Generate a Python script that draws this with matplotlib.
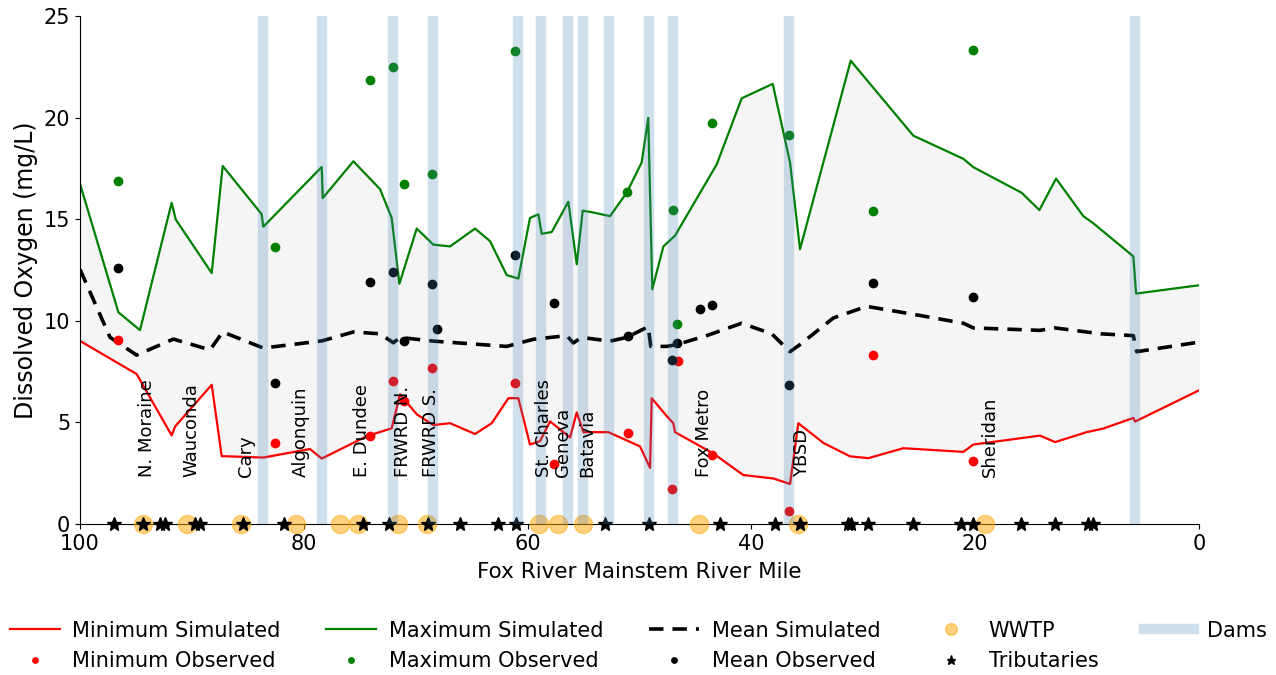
import matplotlib
matplotlib.use("Agg")
import matplotlib.pyplot as plt
import numpy as np

# simulated profiles (river mile, DO mg/L)
min_sim_mile = [100, 94.94, 91.81, 91.5, 88.23, 87.34, 83.62, 79.45, 78.40, 74.38, 72.15, 71.4,
                69.91, 68.43, 66.93, 64.70, 63.21, 61.72, 60.83, 59.79, 58.89, 58.0, 56.21, 55.61,
                55.02, 52.79, 49.96, 49.06, 48.91, 47.57, 46.98, 46.83, 43.41, 40.73, 38.04, 36.55,
                35.81, 33.57, 31.19, 29.55, 26.43, 21.06, 20.17, 14.21, 12.87, 10.04, 8.55, 5.87,
                5.72, 0.0]
min_sim_do = [9.01, 7.38, 4.36, 4.80, 6.85, 3.34, 3.27, 3.69, 3.22, 4.32, 4.71, 6.38,
              5.40, 4.87, 4.96, 4.43, 4.96, 6.19, 6.19, 3.91, 4.08, 5.05, 4.26, 5.49,
              4.52, 4.52, 3.82, 2.76, 6.19, 5.31, 4.96, 4.52, 3.47, 2.41, 2.24, 1.97,
              4.96, 3.99, 3.33, 3.24, 3.73, 3.55, 3.91, 4.35, 4.03, 4.52, 4.70, 5.22,
              5.04, 6.58]

max_sim_mile = [100, 96.57, 94.64, 91.81, 91.45, 88.23, 87.25, 83.77, 83.62, 78.40, 78.31, 75.57,
                73.19, 72.15, 71.46, 69.91, 68.43, 66.93, 64.70, 63.36, 61.87, 60.83, 59.79, 59.04,
                58.74, 57.85, 56.36, 55.61, 55.08, 54.13, 52.64, 51.15, 49.81, 49.22, 48.86, 47.87,
                46.83, 43.10, 40.87, 38.10, 36.55, 35.66, 31.13, 25.53, 21.06, 20.17, 15.85, 14.27,
                12.78, 10.34, 9.45, 5.87, 5.63, 0.0]
max_sim_do = [16.74, 10.42, 9.54, 15.81, 14.99, 12.35, 17.62, 15.25, 14.63, 17.57, 16.04, 17.85,
              16.48, 15.07, 11.82, 14.54, 13.75, 13.66, 14.54, 13.92, 12.25, 12.08, 15.06, 15.24,
              14.28, 14.37, 15.86, 12.78, 15.42, 15.33, 15.15, 16.30, 17.79, 19.99, 11.55, 13.66,
              14.19, 17.70, 20.95, 21.66, 17.79, 13.52, 22.80, 19.11, 17.97, 17.56, 16.30, 15.45,
              17.0, 15.15, 14.80, 13.17, 11.34, 11.75]

mean_sim_mile = [100, 97.32, 94.94, 91.66, 88.38, 87.25, 83.62, 78.40, 75.57, 73.19, 72.0, 71.4,
                 68.43, 61.87, 59.49, 56.5, 55.92, 55.17, 52.64, 51.15, 49.22, 49.0, 47.57, 46.68,
                 44.0, 40.87, 38.19, 36.55, 35.66, 32.68, 29.70, 25.53, 21.06, 20.17, 14.21, 12.87,
                 8.79, 5.87, 5.57, 0.0]
mean_sim_do = [12.53, 9.19, 8.31, 9.10, 8.57, 9.45, 8.66, 9.01, 9.45, 9.36, 8.92, 9.18,
               9.0, 8.74, 9.09, 9.27, 8.91, 9.18, 9.0, 9.18, 9.71, 8.74, 8.74, 8.83,
               9.27, 9.88, 9.36, 8.48, 8.83, 10.14, 10.71, 10.32, 9.88, 9.65, 9.53, 9.65,
               9.36, 9.27, 8.48, 8.95]

# observations
max_obs_mile = [96.57, 82.57, 74.08, 72.06, 71.05, 68.57, 61.13, 51.15, 47.04, 46.68, 43.55, 36.61, 29.10, 20.17]
max_obs_do = [16.87, 13.62, 21.84, 22.5, 16.72, 17.21, 23.27, 16.35, 15.47, 9.83, 19.72, 19.16, 15.42, 23.33]

mean_obs_mile = [96.57, 82.57, 74.08, 72.06, 71.05, 68.57, 68.07, 61.13, 57.64, 51.06, 47.13, 46.68,
                 44.59, 43.55, 36.61, 29.10, 20.17]
mean_obs_do = [12.61, 6.94, 11.91, 12.40, 9.01, 11.81, 9.62, 13.22, 10.88, 9.27, 8.07, 8.91,
               10.58, 10.80, 6.84, 11.87, 11.15]

min_obs_mile = [96.57, 82.57, 74.08, 72.06, 71.05, 68.57, 61.13, 57.64, 51.06, 47.13, 46.53, 43.55, 36.61, 29.10, 20.17]
min_obs_do = [9.07, 4.01, 4.32, 7.03, 6.03, 7.68, 6.93, 2.94, 4.47, 1.71, 8.04, 3.38, 0.65, 8.34, 3.11]

# features along the river
wwtp_mile = [94.37, 90.44, 85.61, 80.70, 76.76, 75.16, 71.58, 68.99, 58.98, 57.28, 55.05, 44.68, 35.84, 19.12]
label_mile = [94.37, 90.44, 85.61, 80.70, 75.16, 71.58, 68.99, 58.98, 57.28, 55.05, 44.68, 35.84, 19.12]
wwtp_names = ["N. Moraine", "Wauconda", "Cary", "Algonquin", "E. Dundee", "FRWRD N.", "FRWRD S.",
              "St. Charles", "Geneva", "Batavia", "Fox Metro", "YBSD", "Sheridan"]
trib_mile = [96.96, 94.37, 92.85, 92.40, 89.72, 89.28, 85.43, 81.77, 74.71, 72.39, 68.90, 66.04,
             62.65, 61.04, 53.08, 49.15, 42.81, 37.89, 35.66, 31.37, 31.10, 29.58, 25.56, 21.27,
             20.20, 15.91, 12.87, 9.92, 9.47]
dam_mile = [83.65, 78.37, 72.03, 68.45, 60.86, 58.8, 56.39, 55.05, 52.73, 49.15, 47.0, 36.64, 5.72]

plt.rcParams['font.family'] = ['DejaVu Sans']
fig = plt.figure(figsize=(12.76, 6.75), dpi=100)
ax = fig.add_axes([0.0627, 0.2237, 0.877, 0.7526])

# shaded band between min and max simulated
fx = np.array(sorted(set(min_sim_mile) | set(max_sim_mile)))
lo = np.interp(fx, min_sim_mile[::-1], min_sim_do[::-1])
hi = np.interp(fx, max_sim_mile[::-1], max_sim_do[::-1])
ax.fill_between(fx, lo, hi, color='#f5f5f5', zorder=0)

ax.plot(min_sim_mile, min_sim_do, color='red', lw=1.6, label='Minimum Simulated', zorder=2)
ax.plot(min_obs_mile, min_obs_do, 'o', color='red', ms=6, label='Minimum Observed', zorder=3)
ax.plot(max_sim_mile, max_sim_do, color='green', lw=1.6, label='Maximum Simulated', zorder=2)
ax.plot(max_obs_mile, max_obs_do, 'o', color='green', ms=6, label='Maximum Observed', zorder=3)
ax.plot(mean_sim_mile, mean_sim_do, '--', color='black', lw=2.6, dashes=(4, 2.5),
        label='Mean Simulated', zorder=2)
ax.plot(mean_obs_mile, mean_obs_do, 'o', color='black', ms=6, label='Mean Observed', zorder=3)
ax.plot(wwtp_mile, [0] * len(wwtp_mile), 'o', color='orange', alpha=0.5, ms=13,
        label='WWTP', zorder=4, clip_on=False)
ax.plot(trib_mile, [0] * len(trib_mile), '*', color='black', ms=10, label='Tributaries',
        zorder=5, clip_on=False)
for i, d in enumerate(dam_mile):
    ax.axvline(d, color='steelblue', alpha=0.25, lw=7.5, zorder=6,
               label='Dams' if i == 0 else None)

for m, name in zip(label_mile, wwtp_names):
    ax.text(m - 0.4, 2.3, name, rotation=90, ha='center', va='bottom', fontsize=13, zorder=7)

ax.set_xlim(100, 0)
ax.set_ylim(0, 25)
ax.set_xticks([100, 80, 60, 40, 20, 0])
ax.set_yticks([0, 5, 10, 15, 20, 25])
ax.tick_params(labelsize=15)
ax.spines['top'].set_visible(False)
ax.spines['right'].set_visible(False)
ax.set_xlabel('Fox River Mainstem River Mile', fontsize=15.5, labelpad=6)
ax.set_ylabel('Dissolved Oxygen (mg/L)', fontsize=17)

fig.legend(loc='lower center', bbox_to_anchor=(0.5, -0.022), ncol=5, frameon=False,
           fontsize=15, numpoints=1, markerscale=0.65, handlelength=2.4,
           handletextpad=0.6, columnspacing=2.2)

fig.savefig('out.png', dpi=100)
